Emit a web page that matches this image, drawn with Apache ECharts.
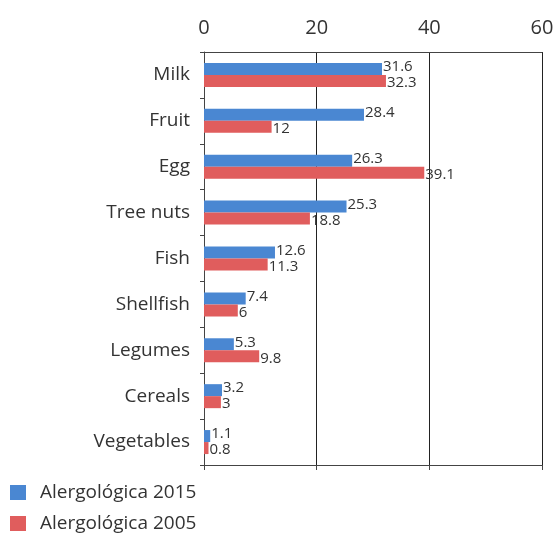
<!DOCTYPE html>
<html>
<head>
<meta charset="utf-8">
<script src="https://cdn.jsdelivr.net/npm/echarts@6/dist/echarts.min.js"></script>
<style>
  html, body { margin: 0; padding: 0; background: #fff; }
  #chart { width: 557px; height: 534px; }
</style>
</head>
<body>
<div id="chart"></div>
<script>
// data
const categories = ['Milk', 'Fruit', 'Egg', 'Tree nuts', 'Fish', 'Shellfish', 'Legumes', 'Cereals', 'Vegetables']
const values2015 = [31.6, 28.4, 26.3, 25.3, 12.6, 7.4, 5.3, 3.2, 1.1]
const values2005 = [32.3, 12, 39.1, 18.8, 11.3, 6, 9.8, 3, 0.8]
const seriesNames = ['Alergológica 2015', 'Alergológica 2005']

const font = '"Open Sans", "Noto Sans", sans-serif'
const chart = echarts.init(document.getElementById('chart'))

const option = {
  animation: false,
  textStyle: { fontFamily: font },
  grid: { left: 204, right: 15, top: 52, bottom: 69 },
  legend: {
    orient: 'vertical',
    left: 5,
    bottom: -4,
    itemWidth: 16,
    itemHeight: 15,
    itemGap: 12,
    icon: 'rect',
    textStyle: { fontSize: 19, color: '#333', fontFamily: font, padding: [0, 0, 0, 9] },
    data: seriesNames
  },
  xAxis: [
    {
      type: 'value',
      position: 'top',
      min: 0,
      max: 60,
      interval: 20,
      axisLine: { show: true, lineStyle: { color: '#444' } },
      axisTick: { show: false },
      axisLabel: { fontSize: 20, color: '#333', margin: 14, fontFamily: font },
      splitLine: { show: true, lineStyle: { color: '#222', width: 1 } }
    },
    {
      type: 'value',
      position: 'bottom',
      min: 0,
      max: 60,
      interval: 20,
      axisLine: { show: true, lineStyle: { color: '#444' } },
      axisTick: { show: true, length: 5, lineStyle: { color: '#444' } },
      axisLabel: { show: false },
      splitLine: { show: false }
    }
  ],
  yAxis: {
    type: 'category',
    inverse: true,
    data: categories,
    axisLine: { show: true, lineStyle: { color: '#444' } },
    axisTick: { show: true, length: 4, lineStyle: { color: '#444' } },
    axisLabel: { fontSize: 19, color: '#333', margin: 14, fontFamily: font }
  },
  series: [
    {
      name: seriesNames[0],
      type: 'bar',
      data: values2015,
      barWidth: 12,
      barGap: '0%',
      itemStyle: { color: '#4a87d2' },
      label: {
        show: true, position: 'right', distance: 1, offset: [0, -2],
        fontSize: 15, color: '#333', fontFamily: font
      }
    },
    {
      name: seriesNames[1],
      type: 'bar',
      data: values2005,
      barWidth: 12,
      barGap: '0%',
      itemStyle: { color: '#e05d5d' },
      label: {
        show: true, position: 'right', distance: 1, offset: [0, 2],
        fontSize: 15, color: '#333', fontFamily: font
      }
    }
  ]
}
chart.setOption(option)
</script>
</body>
</html>
